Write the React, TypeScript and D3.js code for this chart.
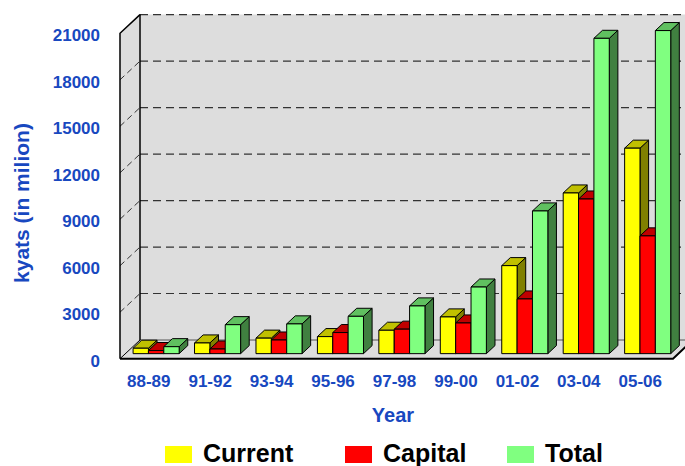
import * as React from 'react';
import * as d3 from 'd3';

const years = ['88-89', '91-92', '93-94', '95-96', '97-98', '99-00', '01-02', '03-04', '05-06'];
const current = [350, 690, 1000, 1100, 1510, 2370, 5680, 10370, 13260];
const capital = [200, 300, 880, 1360, 1580, 1980, 3530, 9980, 7600];
const total = [450, 1870, 1920, 2410, 3080, 4300, 9210, 20350, 20850];
const yTicks = [0, 3000, 6000, 9000, 12000, 15000, 18000, 21000];

const seriesNames = ['Current', 'Capital', 'Total'];
const palette = [
  { front: '#ffff00', top: '#c0c000', side: '#808000' },
  { front: '#ff0000', top: '#c00000', side: '#800000' },
  { front: '#80ff80', top: '#60c060', side: '#408040' },
];

const blue = '#1848c0';
const font = '"Liberation Sans", Arial, sans-serif';

// plot box (front plane) and depth offset
const x0 = 120;
const x1 = 673;
const yBase = 358.7;
const yTop = 33.3;
const depthX = 20;
const depthY = 18.7;
const barFront = 0.27; // fraction of depth where bar front sits
const barDepth = 0.43;

const App = () => {
  const series = [current, capital, total];
  const y = d3.scaleLinear().domain([0, 21000]).range([yBase, yTop]);
  const xBand = d3.scaleBand().domain(years).range([x0, x1]).paddingInner(0.25).paddingOuter(0.125);
  const xInner = d3.scaleBand().domain(seriesNames).range([0, xBand.bandwidth()]);

  const bx = depthX * barFront;
  const by = depthY * barFront;
  const dx = depthX * barDepth;
  const dy = depthY * barDepth;

  const wallPts = [
    [x0 + depthX, yTop - depthY],
    [x1 + depthX + 20, yTop - depthY],
    [x1 + depthX + 20, yBase - depthY],
    [x0 + depthX, yBase - depthY],
  ];
  const leftWall = [
    [x0, yTop],
    [x0 + depthX, yTop - depthY],
    [x0 + depthX, yBase - depthY],
    [x0, yBase],
  ];
  const floor = [
    [x0, yBase],
    [x0 + depthX, yBase - depthY],
    [x1 + depthX, yBase - depthY],
    [x1, yBase],
  ];
  const pts = (p: number[][]) => p.map((d) => d.join(',')).join(' ');

  const bars: any[] = [];
  years.forEach((yr, i) => {
    series.forEach((vals, s) => {
      const xl = (xBand(yr) as number) + (xInner(seriesNames[s]) as number) + bx;
      const xr = xl + xInner.bandwidth();
      const yb = yBase - by;
      const yt = y(vals[i]) - by;
      const c = palette[s];
      bars.push(
        <g key={`${i}-${s}`} stroke='#000' strokeWidth={1} strokeLinejoin='round'>
          <polygon points={pts([[xr, yb], [xr + dx, yb - dy], [xr + dx, yt - dy], [xr, yt]])} fill={c.side} />
          <polygon points={pts([[xl, yt], [xr, yt], [xr + dx, yt - dy], [xl + dx, yt - dy]])} fill={c.top} />
          <rect x={xl} y={yt} width={xr - xl} height={yb - yt} fill={c.front} />
        </g>
      );
    });
  });

  const legendX = [165, 345, 507];

  return (
    <svg width={685} height={466} style={{ position: 'absolute', left: 0, top: 0 }} fontFamily={font} fontWeight='bold'>
      <rect width={685} height={466} fill='#fff' />
      <polygon points={pts(wallPts)} fill='#dddddd' />
      <polygon points={pts(leftWall)} fill='#dddddd' />
      <polygon points={pts(floor)} fill='#dddddd' />
      {yTicks.slice(1).map((t) => (
        <g key={t}>
          <line x1={x0 + depthX} x2={685} y1={y(t) - depthY} y2={y(t) - depthY} stroke='#333' strokeWidth={1.2} strokeDasharray='8,5' />
          {t < 21000 && (
            <line x1={x0} y1={y(t)} x2={x0 + depthX} y2={y(t) - depthY} stroke='#333' strokeWidth={1} strokeDasharray='6,4' />
          )}
        </g>
      ))}
      <line x1={x0 + depthX} x2={685} y1={yBase - depthY} y2={yBase - depthY} stroke='#555' strokeWidth={1} />
      <line x1={x0 + depthX} y1={yTop - depthY} x2={x0 + depthX} y2={yBase - depthY} stroke='#000' strokeWidth={1.5} />
      <polyline points={pts([[x0, yBase], [x0, yTop], [x0 + depthX, yTop - depthY]])} fill='none' stroke='#000' strokeWidth={1.5} />
      <polyline points={pts([[x0, yBase], [x0 + depthX, yBase - depthY]])} fill='none' stroke='#000' strokeWidth={1} />
      <polyline points={pts([[x0, yBase], [x1, yBase], [x1 + depthX, yBase - depthY]])} fill='none' stroke='#000' strokeWidth={2} />
      {bars}
      {yTicks.map((t) => (
        <text key={t} x={100} y={y(t) + 8} textAnchor='end' fontSize={17} fill={blue}>
          {t}
        </text>
      ))}
      {years.map((yr) => (
        <text key={yr} x={(xBand(yr) as number) + xBand.bandwidth() / 2 - 2} y={387} textAnchor='middle' fontSize={17} fill={blue}>
          {yr}
        </text>
      ))}
      <text x={393} y={422} textAnchor='middle' fontSize={20} fill={blue}>
        Year
      </text>
      <text transform='translate(29,203) rotate(-90)' textAnchor='middle' fontSize={21} fill={blue}>
        kyats (in milion)
      </text>
      {seriesNames.map((n, s) => (
        <g key={n}>
          <rect x={legendX[s]} y={446} width={27} height={17} fill={palette[s].front} />
          <text x={legendX[s] + 38} y={462} fontSize={25} fill='#000'>
            {n}
          </text>
        </g>
      ))}
    </svg>
  );
};

export default App;
